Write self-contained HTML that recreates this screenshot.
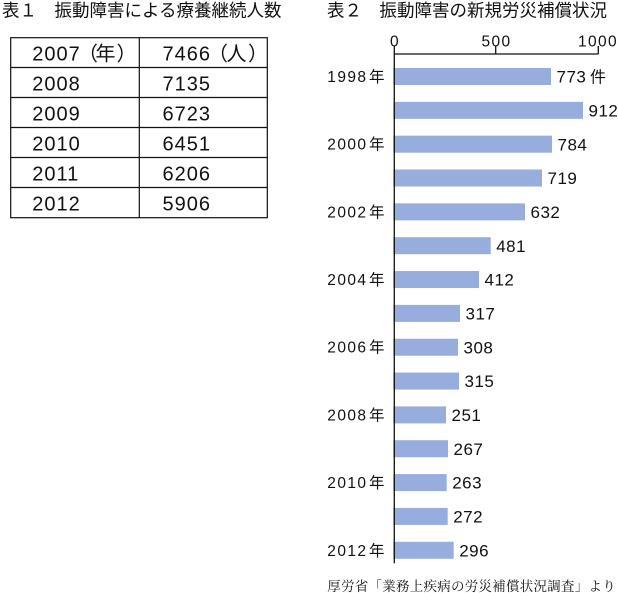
<!DOCTYPE html>
<html>
<head>
<meta charset="utf-8">
<style>
html,body{margin:0;padding:0;background:#fff;}
body{width:618px;height:593px;overflow:hidden;position:relative;}
svg{position:absolute;left:0;top:0;}
.t{font-family:"Liberation Sans","Noto Sans CJK JP",sans-serif;fill:#111;}
.cj{font-family:"Noto Sans CJK JP","Liberation Sans",sans-serif;fill:#111;}
.sf{font-family:"Liberation Serif","Noto Serif CJK SC",serif;fill:#111;}
</style>
</head>
<body>
<svg width="618" height="593" viewBox="0 0 618 593" xmlns="http://www.w3.org/2000/svg">
  <!-- Titles -->
  <text class="cj" x="2" y="16.7" font-size="17.5">表１　振動障害による療養継続人数</text>
  <text class="cj" x="327" y="16.7" font-size="17.5">表２　振動障害の新規労災補償状況</text>

  <!-- Table 1 -->
  <g stroke="#111" stroke-width="1.2" fill="none">
    <rect x="10.7" y="37.7" width="256.6" height="180"/>
    <line x1="139.3" y1="37.7" x2="139.3" y2="217.7"/>
    <line x1="10.7" y1="67.5" x2="267.3" y2="67.5"/>
    <line x1="10.7" y1="97.5" x2="267.3" y2="97.5"/>
    <line x1="10.7" y1="127.5" x2="267.3" y2="127.5"/>
    <line x1="10.7" y1="157.5" x2="267.3" y2="157.5"/>
    <line x1="10.7" y1="187.5" x2="267.3" y2="187.5"/>
  </g>
  <g font-size="20" letter-spacing="1">
    <text class="t" x="32.3" y="60.5">2007</text>
    <text class="t" x="162.5" y="60.5">7466</text>
    <text class="t" x="32.3" y="90.5">2008</text>
    <text class="t" x="162.5" y="90.5">7135</text>
    <text class="t" x="32.3" y="120.5">2009</text>
    <text class="t" x="162.5" y="120.5">6723</text>
    <text class="t" x="32.3" y="150.5">2010</text>
    <text class="t" x="162.5" y="150.5">6451</text>
    <text class="t" x="32.3" y="180.5">2011</text>
    <text class="t" x="162.5" y="180.5">6206</text>
    <text class="t" x="32.3" y="210.5">2012</text>
    <text class="t" x="162.5" y="210.5">5906</text>
  </g>
  <g font-size="20">
    <text class="cj" x="78" y="60.5">（</text>
    <text class="cj" x="95.5" y="60.5">年</text>
    <text class="cj" x="116.5" y="60.5">）</text>
    <text class="cj" x="208" y="60.5">（</text>
    <text class="cj" x="226.5" y="60.5">人</text>
    <text class="cj" x="248" y="60.5">）</text>
  </g>

  <!-- Chart axes -->
  <g font-size="15.5" letter-spacing="1.4" text-anchor="middle">
    <text class="t" x="395" y="46.5">0</text>
    <text class="t" x="496.5" y="46.5">500</text>
    <text class="t" x="598" y="46.5">1000</text>
  </g>

  <!-- Bars -->
  <g fill="#96ADDD">
    <rect x="393.3" y="68" width="157.7" height="17"/>
    <rect x="393.3" y="101.84" width="189.7" height="17"/>
    <rect x="393.3" y="135.68" width="158.7" height="17"/>
    <rect x="393.3" y="169.52" width="148.7" height="17"/>
    <rect x="393.3" y="203.36" width="131.7" height="17"/>
    <rect x="393.3" y="237.2" width="97.4" height="17"/>
    <rect x="393.3" y="271.04" width="85.7" height="17"/>
    <rect x="393.3" y="304.88" width="66.7" height="17"/>
    <rect x="393.3" y="338.72" width="64.7" height="17"/>
    <rect x="393.3" y="372.56" width="65.7" height="17"/>
    <rect x="393.3" y="406.4" width="52.7" height="17"/>
    <rect x="393.3" y="440.24" width="54.7" height="17"/>
    <rect x="393.3" y="474.08" width="53.4" height="17"/>
    <rect x="393.3" y="507.92" width="54.4" height="17"/>
    <rect x="393.3" y="541.76" width="60.4" height="17"/>
  </g>

  <g stroke="#111" stroke-width="1.3" fill="none">
    <line x1="394.3" y1="46" x2="394.3" y2="563.3"/>
    <line x1="394.3" y1="54" x2="598.3" y2="54"/>
    <line x1="495.7" y1="46" x2="495.7" y2="54"/>
    <line x1="598.3" y1="46" x2="598.3" y2="54"/>
  </g>

  <!-- Year labels -->
  <g font-size="15.5" letter-spacing="1.4">
    <text class="t" x="327.3" y="82">1998</text>
    <text class="t" x="327.3" y="149.7">2000</text>
    <text class="t" x="327.3" y="217.4">2002</text>
    <text class="t" x="327.3" y="285.1">2004</text>
    <text class="t" x="327.3" y="352.7">2006</text>
    <text class="t" x="327.3" y="420.4">2008</text>
    <text class="t" x="327.3" y="488.1">2010</text>
    <text class="t" x="327.3" y="555.8">2012</text>
  </g>
  <g font-size="15.5">
    <text class="cj" x="369" y="82">年</text>
    <text class="cj" x="369" y="149.7">年</text>
    <text class="cj" x="369" y="217.4">年</text>
    <text class="cj" x="369" y="285.1">年</text>
    <text class="cj" x="369" y="352.7">年</text>
    <text class="cj" x="369" y="420.4">年</text>
    <text class="cj" x="369" y="488.1">年</text>
    <text class="cj" x="369" y="555.8">年</text>
  </g>

  <!-- Value labels -->
  <g font-size="17" letter-spacing="0.5">
    <text class="t" x="556.5" y="82.6">773</text>
    <text class="t" x="588.5" y="116.4">912</text>
    <text class="t" x="557.5" y="150.3">784</text>
    <text class="t" x="547.5" y="184.1">719</text>
    <text class="t" x="530.5" y="217.9">632</text>
    <text class="t" x="496.2" y="251.8">481</text>
    <text class="t" x="484.5" y="285.6">412</text>
    <text class="t" x="465.5" y="319.5">317</text>
    <text class="t" x="463.5" y="353.3">308</text>
    <text class="t" x="464.5" y="387.2">315</text>
    <text class="t" x="451.5" y="421.0">251</text>
    <text class="t" x="453.5" y="454.8">267</text>
    <text class="t" x="452.2" y="488.7">263</text>
    <text class="t" x="453.2" y="522.5">272</text>
    <text class="t" x="459.2" y="556.4">296</text>
  </g>
  <text class="cj" x="590" y="82.6" font-size="16">件</text>

  <!-- Footer -->
  <text class="sf" x="327.3" y="591" font-size="13.5" letter-spacing="0.25">厚労省「業務上疾病の労災補償状況調査」より</text>
</svg>
</body>
</html>
